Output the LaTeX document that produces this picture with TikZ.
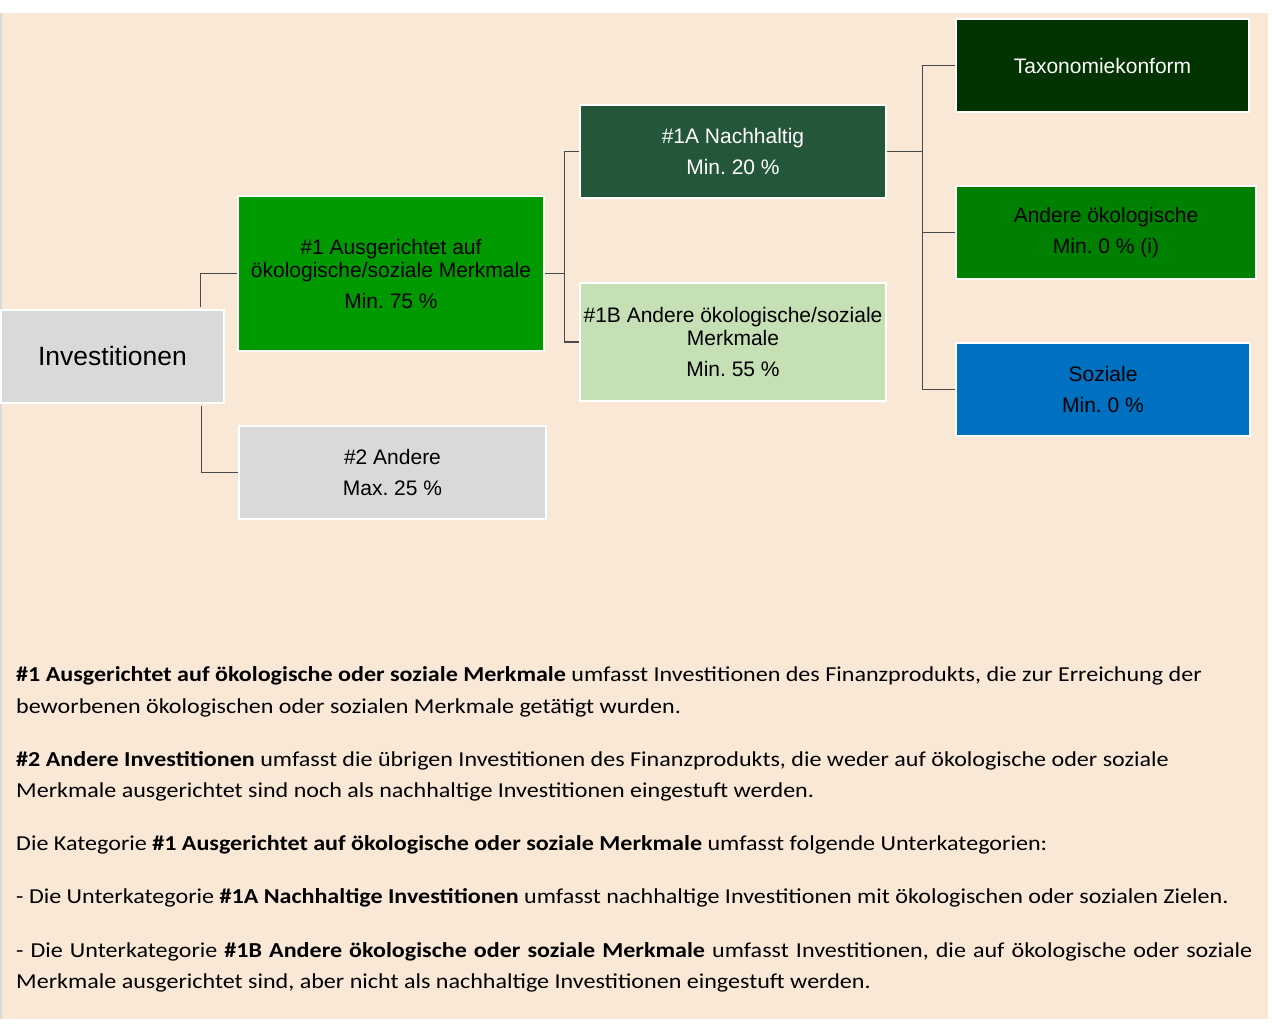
\documentclass[tikz,border=0pt]{standalone}
\usepackage{fontspec}
\setmainfont{Liberation Sans}
\newfontfamily\carl[FakeStretch=1.13]{Carlito}
\definecolor{peach}{HTML}{FAE8D7}
\definecolor{boxgray}{HTML}{D9D9D9}
\definecolor{greenA}{HTML}{009900}
\definecolor{darkgreen}{HTML}{245639}
\definecolor{lightgreen}{HTML}{C5E0B4}
\definecolor{taxgreen}{HTML}{003300}
\definecolor{midgreen}{HTML}{008000}
\definecolor{sozblue}{HTML}{0070C0}
\definecolor{connc}{HTML}{4A4A4A}
\tikzset{
  catbox/.style={draw=white, line width=2.5pt, rectangle, inner sep=0pt, align=center,
    font=\frenchspacing\fontsize{21}{23}\selectfont},
  conn/.style={draw=connc, line width=1.4pt},
  desc/.style={anchor=base west, inner sep=0pt, font=\frenchspacing\carl\fontsize{21.3}{26}\selectfont}
}
\begin{document}
\frenchspacing
\begin{tikzpicture}[x=1pt,y=-1pt]
\useasboundingbox (0,0) rectangle (1272,1023);
\fill[white] (0,0) rectangle (1272,1023);
\fill[peach] (0,13) rectangle (1268,1019);
\draw[boxgray, line width=1.5pt] (0.75,13) -- (0.75,1019);

\node[catbox, fill=boxgray, minimum width=223pt, minimum height=93pt,
  font=\fontsize{26.5}{28}\selectfont] (inv) at (112.5,356.5) {Investitionen};
\node[catbox, fill=greenA, minimum width=306pt, minimum height=155pt] (a1) at (391,273.5)
  {\#1 Ausgerichtet auf\\ökologische/soziale Merkmale\\[8pt]Min. 75 \%};
\node[catbox, fill=boxgray, minimum width=307pt, minimum height=93pt] (a2) at (392.5,472.5)
  {\#2 Andere\\[8pt]Max. 25 \%};
\node[catbox, fill=darkgreen, text=white, minimum width=306pt, minimum height=93pt] (n1a) at (733,151.5)
  {\#1A Nachhaltig\\[8pt]Min. 20 \%};
\node[catbox, fill=lightgreen, minimum width=306pt, minimum height=118pt] (n1b) at (733,342)
  {\#1B Andere ökologische/soziale\\Merkmale\\[8pt]Min. 55 \%};
\node[catbox, fill=taxgreen, text=white, minimum width=293pt, minimum height=93pt] (tax) at (1102.5,65.5)
  {Taxonomiekonform};
\node[catbox, fill=midgreen, minimum width=300pt, minimum height=93pt] (oek) at (1106,232.5)
  {Andere ökologische\\[8pt]Min. 0 \% (i)};
\node[catbox, fill=sozblue, minimum width=294pt, minimum height=93pt] (soz) at (1103,389.5)
  {Soziale\\[8pt]Min. 0 \%};

\draw[conn] (inv.north east) ++(-25,-1.5) |- (a1.west);
\draw[conn] (inv.south east) ++(-24,1.5) |- (a2.west);
\draw[conn] (a1.east) -- ++(19,0) coordinate (j1) |- (n1a.west);
\draw[conn] (j1) |- (n1b.west);
\draw[conn] (n1a.east) -- ++(35,0) coordinate (j2) |- (tax.west);
\draw[conn] (j2) |- (oek.west);
\draw[conn] (j2) |- (soz.west);

\node[desc] (p1a) at (16,681) {\textbf{\#1 Ausgerichtet auf ökologische oder soziale Merkmale} umfasst Investitionen des Finanzprodukts, die zur Erreichung der};
\node[desc] (p1b) at (16,713) {beworbenen ökologischen oder sozialen Merkmale getätigt wurden.};
\node[desc] (p2a) at (16,766) {\textbf{\#2 Andere Investitionen} umfasst die übrigen Investitionen des Finanzprodukts, die weder auf ökologische oder soziale};
\node[desc] (p2b) at (16,797) {Merkmale ausgerichtet sind noch als nachhaltige Investitionen eingestuft werden.};
\node[desc] (p3) at (16,850) {Die Kategorie \textbf{\#1 Ausgerichtet auf ökologische oder soziale Merkmale} umfasst folgende Unterkategorien:};
\node[desc] (p4) at (16,903) {- Die Unterkategorie \textbf{\#1A Nachhaltige Investitionen} umfasst nachhaltige Investitionen mit ökologischen oder sozialen Zielen.};
\node[desc] (p5a) at (16,957) {\hbox to 1236pt{- Die Unterkategorie \textbf{\#1B Andere ökologische oder soziale Merkmale} umfasst Investitionen, die auf ökologische oder soziale}};
\node[desc] (p5b) at (16,988) {Merkmale ausgerichtet sind, aber nicht als nachhaltige Investitionen eingestuft werden.};
\end{tikzpicture}
\end{document}
